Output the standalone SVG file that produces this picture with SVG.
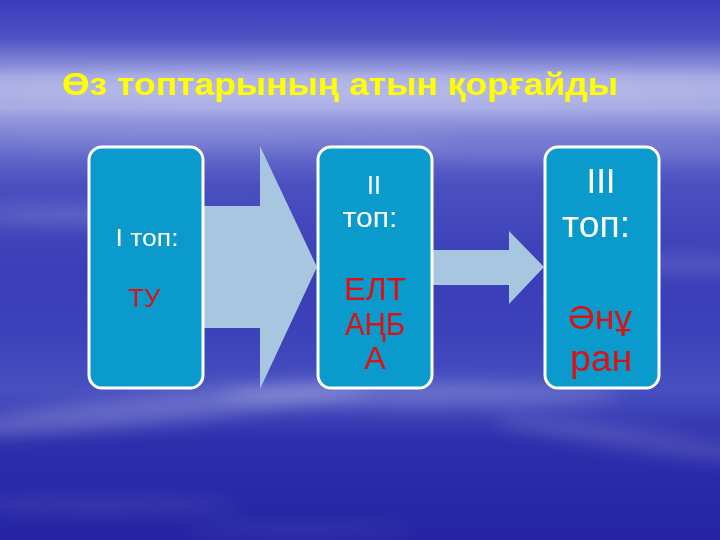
<svg xmlns="http://www.w3.org/2000/svg" width="720" height="540" viewBox="0 0 720 540">
<defs>
<linearGradient id="sky" x1="0" y1="0" x2="0" y2="1">
<stop offset="0" stop-color="#3a3cbc"/>
<stop offset="0.07" stop-color="#4c52c2"/>
<stop offset="0.14" stop-color="#9ca0e0"/>
<stop offset="0.2" stop-color="#a6aae4"/>
<stop offset="0.26" stop-color="#7076d0"/>
<stop offset="0.34" stop-color="#4a50c0"/>
<stop offset="0.5" stop-color="#3a3eb8"/>
<stop offset="0.62" stop-color="#3c42ba"/>
<stop offset="0.72" stop-color="#4850c0"/>
<stop offset="0.82" stop-color="#2c2eac"/>
<stop offset="1" stop-color="#2424a4"/>
</linearGradient>
<filter id="blur" x="-20%" y="-50%" width="140%" height="200%">
<feGaussianBlur stdDeviation="9"/>
</filter>
<style>
.box{fill:#0a9acb;stroke:#ffffff;stroke-width:3}
.arrow{fill:#a8c6e0}
.w{font-family:"Liberation Sans",Arial,sans-serif;fill:#ffffff;text-anchor:middle}
.r{font-family:"Liberation Sans",Arial,sans-serif;fill:#e01010;text-anchor:middle}
.title{font-family:"Liberation Sans",Arial,sans-serif;font-weight:bold;fill:#ffff00;font-size:32px}
</style>
</defs>
<g id="background">
<rect x="0" y="0" width="720" height="540" fill="url(#sky)"/>
<g filter="url(#blur)" fill="#ffffff">
<ellipse cx="360" cy="88" rx="420" ry="16" opacity="0.22"/>
<ellipse cx="200" cy="140" rx="260" ry="6" opacity="0.15"/>
<ellipse cx="560" cy="150" rx="220" ry="6" opacity="0.13"/>
<ellipse cx="80" cy="215" rx="110" ry="8" opacity="0.18"/>
<ellipse cx="680" cy="265" rx="90" ry="8" opacity="0.16"/>
<ellipse cx="150" cy="410" rx="220" ry="14" opacity="0.22" transform="rotate(-6 150 410)"/>
<ellipse cx="420" cy="395" rx="200" ry="12" opacity="0.2"/>
<ellipse cx="640" cy="440" rx="150" ry="10" opacity="0.16" transform="rotate(8 640 440)"/>
<ellipse cx="100" cy="505" rx="140" ry="6" opacity="0.12"/>
<ellipse cx="300" cy="530" rx="120" ry="5" opacity="0.1"/>
</g>
</g>
<text class="title" x="62" y="95" textLength="556" lengthAdjust="spacingAndGlyphs">Өз топтарының атын қорғайды</text>
<g id="connectors">
<polygon class="arrow" points="200,206 260,206 260,146 317,267 260,389 260,328 200,328"/>
<polygon class="arrow" points="430,250 509,250 509,231 544,267 509,304 509,285 430,285"/>
</g>
<g id="node1">
<rect class="box" x="89" y="147" width="114" height="241" rx="13"/>
<text class="w" x="147" y="246" font-size="23" textLength="63" lengthAdjust="spacingAndGlyphs">I топ:</text>
<text class="r" x="144" y="307" font-size="26" textLength="32" lengthAdjust="spacingAndGlyphs">ТУ</text>
</g>
<g id="node2">
<rect class="box" x="318" y="147" width="114" height="241" rx="13"/>
<text class="w" x="374" y="194" font-size="25">II</text>
<text class="w" x="370" y="227" font-size="28" textLength="55" lengthAdjust="spacingAndGlyphs">топ:</text>
<text class="r" x="375" y="300" font-size="31" textLength="62" lengthAdjust="spacingAndGlyphs">ЕЛТ</text>
<text class="r" x="375" y="335" font-size="31" textLength="60" lengthAdjust="spacingAndGlyphs">АҢБ</text>
<text class="r" x="375" y="369" font-size="32">А</text>
</g>
<g id="node3">
<rect class="box" x="545" y="147" width="114" height="241" rx="13"/>
<text class="w" x="601" y="193" font-size="35">III</text>
<text class="w" x="596" y="237" font-size="36" textLength="68" lengthAdjust="spacingAndGlyphs">топ:</text>
<text class="r" x="600" y="329" font-size="33" textLength="64" lengthAdjust="spacingAndGlyphs">Әнұ</text>
<text class="r" x="601" y="371" font-size="37" textLength="62" lengthAdjust="spacingAndGlyphs">ран</text>
</g>
</svg>
